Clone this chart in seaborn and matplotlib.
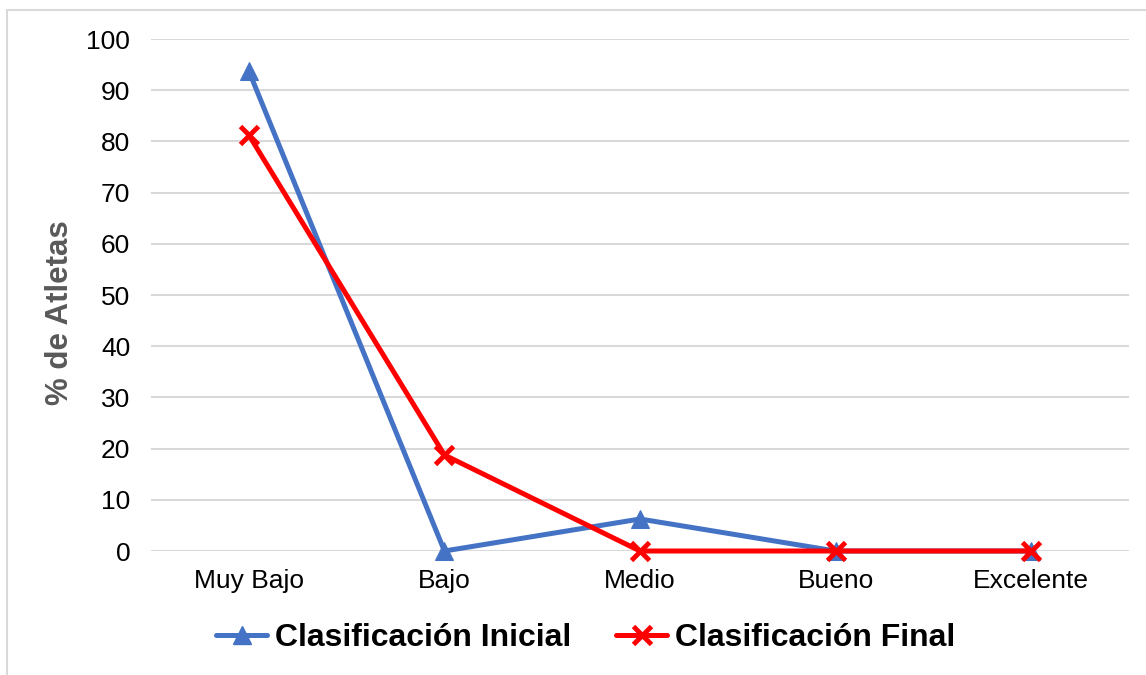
import matplotlib
matplotlib.use("Agg")
import matplotlib.pyplot as plt
import seaborn as sns
import pandas as pd
from matplotlib.patches import Rectangle
from matplotlib.lines import Line2D

categories = ["Muy Bajo", "Bajo", "Medio", "Bueno", "Excelente"]
inicial = [93.75, 0, 6.25, 0, 0]
final = [81.25, 18.75, 0, 0, 0]
yticks = [0, 10, 20, 30, 40, 50, 60, 70, 80, 90, 100]

sns.set_theme(style="white")
plt.rcParams['font.family'] = ['Liberation Sans', 'DejaVu Sans']
plt.rcParams['text.color'] = 'black'

fig = plt.figure(figsize=(11.46, 6.75), dpi=100)
ax = fig.add_axes([0.1318, 0.1837, 0.8534, 0.7585])

# figure border (only top & left visible)
fig.patches.append(Rectangle((7/1146, -0.1), 1.2, 1 - 10/675 + 0.1, transform=fig.transFigure,
                             fill=False, edgecolor="#D9D9D9", linewidth=1.5, zorder=0))

x = list(range(len(categories)))
df_i = pd.DataFrame({"x": x, "y": inicial})
df_f = pd.DataFrame({"x": x, "y": final})

blue = "#4472C4"
red = "#FF0000"
lw = 3.6

sns.lineplot(data=df_i, x="x", y="y", ax=ax, color=blue, linewidth=lw, marker="^",
             markersize=13, markeredgecolor=blue, markerfacecolor=blue, sort=False,
             zorder=3, clip_on=False)
sns.lineplot(data=df_f, x="x", y="y", ax=ax, color=red, linewidth=lw, marker="x",
             markersize=13, markeredgewidth=3.5, markeredgecolor=red, sort=False,
             zorder=4, clip_on=False)

ax.set_xlim(-0.5, len(categories) - 0.5)
ax.set_ylim(0, 100)
ax.set_yticks(yticks)
ax.set_yticklabels([str(v) for v in yticks])
ax.set_xticks(x)
ax.set_xticklabels(categories)
ax.tick_params(axis="both", length=0, labelsize=19, colors="black")
ax.tick_params(axis="y", pad=15)
ax.tick_params(axis="x", pad=13)
ax.grid(axis="y", color="#D9D9D9", linewidth=1.5)
ax.set_axisbelow(True)
for s in ax.spines.values():
    s.set_visible(False)
ax.set_xlabel("")
ax.set_ylabel("% de Atletas", fontsize=22.5, fontweight="bold", color="#595959")
ax.yaxis.set_label_coords(-0.078, 0.465)

handles = [
    Line2D([], [], color=blue, linewidth=lw, marker="^", markersize=13),
    Line2D([], [], color=red, linewidth=lw, marker="x", markersize=13, markeredgewidth=3.5),
]
leg = fig.legend(handles, ["Clasificación Inicial", "Clasificación Final"], loc="center",
                 bbox_to_anchor=(586/1146, 1 - 638/675), ncol=2, frameon=False,
                 prop={"size": 23, "weight": "bold"}, handlelength=1.6, handletextpad=0.25,
                 columnspacing=1.4, labelcolor="black")

fig.savefig("out.png", dpi=100)
